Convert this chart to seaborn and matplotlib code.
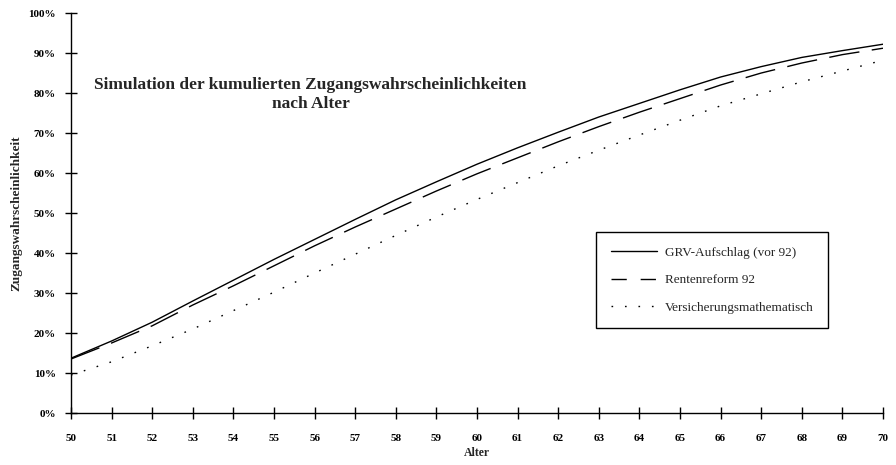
import seaborn as sns
import matplotlib.pyplot as plt
import pandas as pd
from matplotlib.lines import Line2D

# Alter 50..70, kumulierte Zugangswahrscheinlichkeit in %
alter = list(range(50, 71))
grv_aufschlag = [13.7, 18.0, 22.7, 28.0, 33.2, 38.4, 43.4, 48.4, 53.3, 57.8, 62.2,
                 66.3, 70.2, 74.0, 77.4, 80.8, 84.0, 86.6, 88.9, 90.6, 92.2]
rentenreform = [13.5, 17.5, 21.8, 27.0, 31.8, 36.8, 41.8, 46.5, 51.0, 55.5, 59.8,
                63.8, 67.8, 71.6, 75.2, 78.6, 82.0, 85.0, 87.5, 89.6, 91.2]
versmath = [9.5, 12.8, 16.8, 21.0, 25.6, 30.2, 35.0, 39.7, 44.4, 49.0, 53.4,
            57.6, 61.8, 65.7, 69.5, 73.2, 76.8, 79.8, 82.8, 85.5, 88.2]
labels = ['GRV-Aufschlag (vor 92)', 'Rentenreform 92', 'Versicherungsmathematisch']
yticks = [0, 10, 20, 30, 40, 50, 60, 70, 80, 90, 100]

df = pd.DataFrame({'Alter': alter, labels[0]: grv_aufschlag,
                   labels[1]: rentenreform, labels[2]: versmath})
df_long = df.melt(id_vars='Alter', var_name='Serie', value_name='Wert')

sns.set_theme(style='white')
sns.set_style('ticks')
plt.rcParams['font.family'] = ['Liberation Serif', 'DejaVu Serif']

fig = plt.figure(figsize=(8.96, 4.65), dpi=100)
ax = fig.add_axes([0.0792, 0.1118, 0.9063, 0.8602])

dashes = {labels[0]: '', labels[1]: (22, 9), labels[2]: (1.2, 8.5)}
sns.lineplot(data=df_long, x='Alter', y='Wert', hue='Serie', style='Serie',
             palette=['black'] * 3, dashes=dashes, linewidth=1.0, ax=ax, legend=False)

ax.set_xlim(50, 70)
ax.set_ylim(0, 100)
ax.set_xticks(alter)
ax.set_yticks(yticks)
ax.set_yticklabels([f'{v}%' for v in yticks])
sns.despine(ax=ax)
for s in ['left', 'bottom']:
    ax.spines[s].set_linewidth(1.0)
    ax.spines[s].set_color('black')
ax.tick_params(axis='both', direction='inout', length=8, width=1.0, color='black',
               labelsize=8, labelcolor='black')
ax.tick_params(axis='x', pad=11)
ax.tick_params(axis='y', pad=7)
for t in ax.get_xticklabels() + ax.get_yticklabels():
    t.set_fontweight('bold')

ax.set_xlabel('Alter', fontsize=8.5, fontweight='bold', labelpad=3)
ax.set_ylabel('Zugangswahrscheinlichkeit', fontsize=9.5, fontweight='bold', labelpad=4)

ax.text(0.295, 0.7975, 'Simulation der kumulierten Zugangswahrscheinlichkeiten\nnach Alter',
        transform=ax.transAxes, ha='center', va='center', fontsize=12.5,
        fontweight='bold', linespacing=1.25)

# Legendensymbole mit kürzeren Strichen wie im Original
handles = [Line2D([], [], color='black', lw=1.0),
           Line2D([], [], color='black', lw=1.0, dashes=(11, 10)),
           Line2D([], [], color='black', lw=1.0, dashes=(1.2, 8.5))]
leg = ax.legend(handles, labels, loc='upper left', bbox_to_anchor=(0.6466, 0.4525),
                borderaxespad=0, fontsize=9.5, frameon=True, fancybox=False,
                framealpha=1, edgecolor='black', borderpad=1.1, labelspacing=1.15,
                handlelength=3.5, handletextpad=0.6)
leg.get_frame().set_linewidth(1.0)

fig.savefig('out.png', dpi=100)
